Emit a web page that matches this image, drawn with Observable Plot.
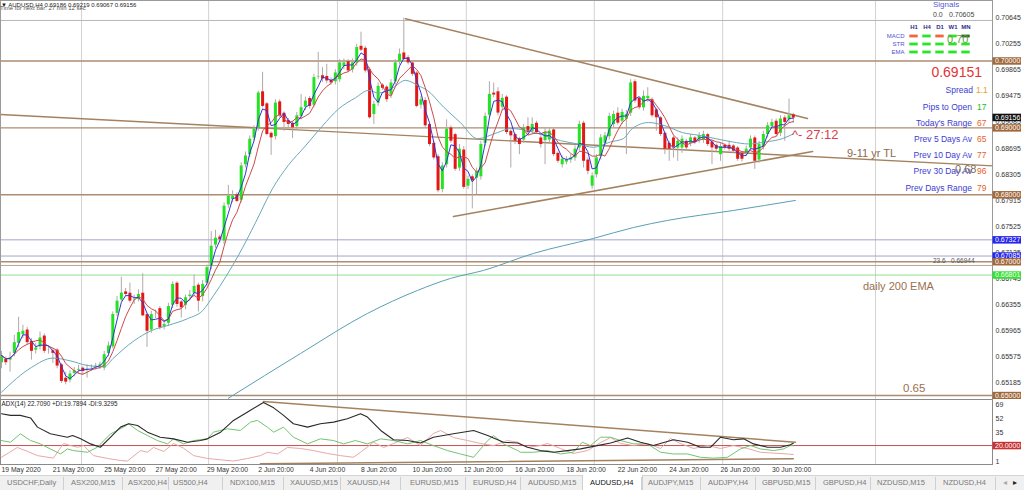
<!DOCTYPE html>
<html><head><meta charset="utf-8">
<script src="https://cdn.jsdelivr.net/npm/d3@7"></script>
<script src="https://cdn.jsdelivr.net/npm/@observablehq/plot@0.6"></script>
<style>
html,body{margin:0;padding:0;background:#fff;}
#chart{position:relative;width:1024px;height:490px;overflow:hidden;font-family:"Liberation Sans",Arial,sans-serif;background:#fff;}
#main,#adx,#sig{position:absolute;}
#main{left:0;top:0;} #adx{left:0;top:399px;} #sig{left:860px;top:14px;}
.t{position:absolute;white-space:nowrap;line-height:1;}
#tabs{position:absolute;left:0;top:475px;width:1024px;height:15px;background:#f0f0f0;border-top:1px solid #d4d4d4;box-sizing:border-box;}
.tab{position:absolute;top:3px;font-size:7.5px;color:#7a7a7a;white-space:nowrap;line-height:1;}
.sep{position:absolute;top:1px;width:1px;height:13px;background:#cfcfcf;}
.sig g[aria-label^="x-axis"] text{font-weight:bold;fill:#2e2e8e;}
.sig g[aria-label^="y-axis"] text{fill:#5050d0;}
</style></head>
<body><div id="chart"><div id="main"></div><div id="adx"></div><div id="sig" class="sig"></div><div id="tabs"></div></div>
<script>
// ---------------- DATA ----------------
const opens = [
.6548,.6553,.6552,.6562,.6577,.6590,.6597,.6580,.6567,.6572,
.6588,.6567,.6566,.6567,.6545,.6525,.6522,.6532,.6537,.6540,
.6539,.6540,.6542,.6543,.6540,.6562,.6572,.6622,.6642,.6654,
.6652,.6642,.6643,.6652,.6620,.6597,.6621,.6629,.6602,.6607,
.6634,.6667,.6639,.6634,.6647,.6652,.6664,.6647,.6667,.6692,
.6724,.6736,.6730,.6784,.6792,.6799,.6791,.6844,.6859,.6884,
.6899,.6953,.6935,.6891,.6886,.6938,.6921,.6910,.6906,.6901,
.6916,.6930,.6943,.6933,.6976,.6977,.6976,.6970,.6968,.6971,
.6991,.6998,.6986,.6996,.7021,.7018,.6986,.6919,.6936,.6963,
.6960,.6948,.6968,.6998,.7011,.7004,.6996,.6981,.6933,.6940,
.6904,.6876,.6856,.6807,.6844,.6899,.6889,.6839,.6866,.6812,
.6826,.6824,.6826,.6876,.6918,.6951,.6953,.6930,.6945,.6894,
.6889,.6883,.6881,.6901,.6894,.6906,.6884,.6880,.6881,.6896,
.6861,.6844,.6848,.6851,.6854,.6869,.6906,.6851,.6812,.6829,
.6856,.6876,.6886,.6904,.6921,.6909,.6912,.6921,.6968,.6943,
.6929,.6943,.6941,.6926,.6914,.6891,.6876,.6884,.6869,.6869,
.6879,.6876,.6884,.6881,.6881,.6889,.6878,.6873,.6859,.6873,
.6873,.6872,.6869,.6861,.6861,.6869,.6884,.6851,.6871,.6889,
.6901,.6909,.6891,.6914,.6911,.69186];
const highs = [
.6566,.6558,.6565,.6590,.6617,.6605,.6602,.6585,.6578,.6595,
.6592,.6574,.6570,.6570,.6548,.6535,.6537,.6542,.6545,.6543,
.6546,.6546,.6548,.6550,.6566,.6580,.6625,.6648,.6677,.6660,
.6668,.6650,.6658,.6682,.6623,.6626,.6628,.6633,.6612,.6638,
.6670,.6670,.6642,.6650,.6657,.6680,.6668,.6672,.6695,.6745,
.6747,.6740,.6788,.6814,.6806,.6803,.6848,.6864,.6888,.6903,
.6955,.6983,.6938,.6894,.6942,.6942,.6924,.6914,.6910,.6923,
.6950,.6946,.6947,.6980,.7013,.6990,.6995,.6975,.6987,.7002,
.7003,.7002,.7003,.7025,.7043,.7022,.6990,.6940,.6967,.6966,
.6963,.6972,.7002,.7018,.7064,.7008,.6999,.6984,.6947,.6945,
.6907,.6880,.6860,.6848,.6912,.6903,.6892,.6875,.6872,.6828,
.6830,.6840,.6880,.6922,.6969,.6967,.6960,.6950,.6948,.6897,
.6892,.6886,.6905,.6915,.6915,.6910,.6888,.6900,.6900,.6900,
.6864,.6858,.6857,.6860,.6873,.6910,.6910,.6855,.6833,.6860,
.6890,.6893,.6922,.6925,.6930,.6928,.6926,.6972,.6972,.6946,
.6955,.6960,.6945,.6929,.6917,.6894,.6880,.6888,.6885,.6888,
.6883,.6890,.6887,.6893,.6895,.6892,.6881,.6876,.6877,.6876,
.6880,.6875,.6872,.6864,.6873,.6888,.6888,.6880,.6895,.6908,
.6913,.6913,.6918,.6918,.6943,.69219];
const lows = [
.6540,.6545,.6535,.6558,.6572,.6585,.6575,.6553,.6562,.6568,
.6563,.6562,.6548,.6540,.6518,.6516,.6519,.6528,.6532,.6530,
.6526,.6536,.6538,.6539,.6537,.6558,.6570,.6618,.6640,.6648,
.6638,.6636,.6640,.6618,.6572,.6593,.6615,.6598,.6598,.6603,
.6630,.6632,.6616,.6628,.6643,.6648,.6625,.6640,.6663,.6688,
.6720,.6728,.6726,.6780,.6788,.6788,.6788,.6840,.6855,.6880,
.6895,.6930,.6888,.6859,.6882,.6915,.6895,.6900,.6884,.6897,
.6912,.6926,.6928,.6930,.6972,.6968,.6966,.6964,.6964,.6968,
.6987,.6982,.6982,.6992,.7014,.6982,.6913,.6905,.6932,.6956,
.6938,.6944,.6964,.6994,.7000,.6994,.6977,.6930,.6928,.6900,
.6872,.6852,.6803,.6803,.6840,.6877,.6835,.6835,.6808,.6808,
.6779,.6800,.6822,.6872,.6914,.6945,.6918,.6926,.6890,.6840,
.6875,.6860,.6877,.6890,.6890,.6890,.6870,.6845,.6876,.6857,
.6847,.6840,.6845,.6847,.6850,.6865,.6840,.6830,.6808,.6825,
.6852,.6872,.6882,.6900,.6904,.6905,.6860,.6917,.6937,.6927,
.6925,.6938,.6915,.6895,.6887,.6860,.6850,.6855,.6850,.6862,
.6865,.6872,.6875,.6877,.6877,.6872,.6845,.6864,.6850,.6867,
.6865,.6862,.6850,.6849,.6857,.6865,.6838,.6847,.6867,.6885,
.6897,.6887,.6887,.6880,.6907,.69067];
const closes = [
.6560,.6550,.6557,.6580,.6595,.6597,.6580,.6567,.6572,.6587,
.6567,.6569,.6564,.6545,.6522,.6521,.6533,.6538,.6540,.6537,
.6540,.6542,.6545,.6547,.6562,.6575,.6622,.6642,.6654,.6652,
.6642,.6645,.6652,.6620,.6597,.6622,.6623,.6602,.6607,.6634,
.6667,.6637,.6632,.6647,.6651,.6664,.6642,.6667,.6692,.6724,
.6736,.6734,.6784,.6799,.6799,.6791,.6844,.6859,.6884,.6899,
.6953,.6933,.6891,.6886,.6938,.6919,.6909,.6906,.6901,.6919,
.6931,.6941,.6933,.6976,.6977,.6974,.6971,.6968,.6983,.6998,
.6998,.6986,.6998,.7021,.7017,.6986,.6916,.6936,.6963,.6960,
.6943,.6968,.6998,.7011,.7003,.6998,.6981,.6933,.6943,.6904,
.6876,.6856,.6807,.6844,.6899,.6881,.6839,.6869,.6812,.6824,
.6822,.6836,.6876,.6918,.6951,.6950,.6923,.6945,.6894,.6889,
.6881,.6876,.6901,.6894,.6906,.6894,.6876,.6894,.6896,.6861,
.6851,.6854,.6853,.6856,.6869,.6906,.6851,.6836,.6829,.6856,
.6886,.6889,.6918,.6921,.6908,.6924,.6921,.6968,.6941,.6931,
.6948,.6948,.6919,.6916,.6891,.6869,.6869,.6872,.6881,.6884,
.6871,.6886,.6879,.6889,.6891,.6876,.6871,.6869,.6873,.6871,
.6869,.6866,.6854,.6854,.6869,.6884,.6851,.6876,.6891,.6904,
.6909,.6891,.6914,.6909,.6919,.69156];

// slow moving average: [bar, price]
const slowMA = [[0,.6505],[7,.6542],[12,.6556],[16,.6552],[20,.6545],[24,.6543],[26,.6555],[31,.6582],[35,.6597],[39,.6605],[43.5,.6615],[47,.6627],[49.5,.6649],[55.4,.6710],[59.4,.6759],[63.3,.6809],[67,.6844],[71,.6873],[75,.6903],[78.7,.6928],[82.7,.6945],[85.8,.6956],[88.1,.6952],[91.4,.6960],[94.4,.6971],[97.4,.6963],[99.5,.6956],[103.3,.6931],[107.2,.6908],[111.2,.6884],[115.9,.6893],[118.9,.6899],[122.9,.6896],[126.6,.6889],[130.6,.6881],[134.6,.6876],[138.3,.6871],[142.3,.6879],[145.3,.6884],[147.4,.6899],[151.2,.6908],[155.1,.6903],[159.1,.6893],[162.9,.6889],[166.8,.6884],[170.8,.6879],[174.5,.6876],[178.5,.6879],[182.5,.6884],[185,.6891]];
// daily 200 EMA: [bar, price]
const dailyEMA = [[53,.6496],[69.9,.6563],[85.5,.66227],[97.2,.66571],[104.9,.6675],[112.6,.6687],[124.3,.67124],[138.3,.67348],[147.7,.67512],[155.6,.67617],[171,.67766],[185.5,.67916]];

// trend lines: [bar, price]
const trendUpper = [[94.4,.7063],[188.3,.69141]];
const trendLower = [[105.6,.67676],[189.5,.68647]];
const trendLongTerm = [[-0.23,.69200],[231.54,.68432]];

// horizontal levels
const levelPrices = [0.70605,0.70000,0.69000,0.68000,0.67327,0.67085,0.67000,0.66944,0.66801,0.65000];
const levelKinds  = ["hi","round","round","round","alert","alert","round","fib","ema","round"];
const boxPrices = [0.70000,0.69156,0.69000,0.68000,0.67327,0.67085,0.67000,0.66801,0.65000];
const boxKinds  = ["round","bid","round","round","alert","alert","round","ema","round"];
const priceTicks = [0.70645,0.70255,0.69865,0.69475,0.69085,0.68695,0.68305,0.67915,0.67525,0.67135,0.66745,0.66355,0.65965,0.65575,0.65185];

// ADX panel: [bar, value]
const adxLine = [[0,58],[2.1,56],[4.4,56],[6.8,53],[8.4,42],[11.4,34],[15.4,30],[16.6,32],[18.5,28],[20.8,22],[23.1,18],[25.5,30],[27.8,42],[29.7,46],[31.8,44],[34.1,36],[37.1,30],[40.2,28],[43.5,24],[46.5,26],[48.1,28],[51.2,36],[54.2,50],[57.5,60],[61.2,71.5],[63.6,65],[65.9,56],[68.2,46],[71.5,42],[74.5,46],[77.6,48],[80.8,52],[83.9,58],[85.5,54],[88.6,38],[91.6,27],[94.9,26],[97.9,23],[100.9,30],[105.6,34],[110.3,38],[113.6,32],[117.3,24],[120.6,23],[122.9,18],[125.9,14],[129,12],[132.2,14],[135.3,16],[138.3,19],[142.3,23],[146.3,29],[149.3,24],[152.3,20],[157,27],[160.3,24],[163.3,18],[165.7,18],[168,30],[171,27],[173.4,28],[175.7,22],[179,18],[182,18],[184.3,21],[185,22.7]];
const plusDI = [[0,26],[2.1,24],[4.4,34],[6.8,26],[9.1,22],[11.4,16],[13.8,10],[15.4,16],[16.8,14],[20.1,12],[22.4,18],[25.5,34],[28.5,42],[29.7,46],[31.8,38],[34.1,32],[36.4,26],[38.8,22],[40.2,28],[42.5,22],[44.9,26],[48.1,28],[49.5,36],[52.8,40],[55.8,38],[58.2,48],[59.8,50],[62.1,42],[63.6,36],[65.9,42],[68.2,30],[71.5,22],[74.5,28],[77.6,26],[79.9,22],[82.7,26],[85.5,22],[88.6,28],[91.6,26],[94.9,22],[97.9,26],[100.9,20],[104.2,14],[107.2,10],[110.3,6],[113.6,26],[115,32],[117.3,22],[120.6,14],[121.3,12],[124.3,12],[127.6,14],[130.6,10],[133.6,12],[135.7,24],[137.6,20],[140,30],[142.3,30],[144.6,26],[147.7,22],[150.9,22],[154,12],[157,10],[160.3,10],[163.3,6],[166.4,5],[169.6,6],[172.7,16],[175,20],[177.3,16],[180.4,14],[182.7,16],[184.3,20],[185,19.8]];
const minusDI = [[0,6],[3.7,17.7],[6.1,13],[8.4,8],[12.1,5],[14.5,22.5],[16.1,20],[17.8,18],[19.2,20],[21.5,8],[24.8,4.6],[27.8,2.2],[29.4,1.5],[32.5,14],[34.1,12],[35.5,17.7],[37.9,13],[40.2,22.5],[42.5,17],[44.9,8],[48.1,4.6],[51.2,3],[54.2,1.5],[57.5,4.6],[60.5,8],[62.1,12],[64.5,10],[66.8,17.7],[69.9,16.5],[72.9,14],[76.2,10.5],[79.2,8],[82.2,6],[83.9,12],[86.9,24],[89.3,17.7],[91.6,22.5],[94.9,29.6],[97.9,20],[100.9,34.4],[102.6,38],[105.6,29.6],[108.9,26],[111.9,22.5],[115,20],[118.2,26],[120.6,24],[122.9,17.7],[125.9,20],[127.6,22.5],[130.6,16.5],[133.6,10.5],[136.9,14],[140,23.7],[142.3,29.6],[144.6,22.5],[147.7,20],[150.9,22.5],[154,16.5],[156.3,28.4],[158.6,22.5],[161.7,16.5],[165,20],[168,16.5],[171,20],[174.3,16.5],[177.3,12],[180.4,11],[183.6,10],[185,9.3]];
const adxTrendUpper = [[61.2,72.6],[185.5,24]];
const adxTrendLower = [[60.5,-1.8],[185,4.2]];
const adxLevel = 20;
const adxTicks = [69,52,35,18,1];

// time axis
const dateLabels = ["19 May 2020","21 May 20:00","25 May 20:00","27 May 20:00","29 May 20:00","2 Jun 20:00","4 Jun 20:00","8 Jun 20:00","10 Jun 20:00","12 Jun 20:00","16 Jun 20:00","18 Jun 20:00","22 Jun 20:00","24 Jun 20:00","26 Jun 20:00","30 Jun 20:00"];
const dateBars = [0,12,24,36,48,60,72,84,96,108,120,132,144,156,168,180];
const gridBars = [18.7,48.4,78.5,108.6,138.5,168.5,204.2];

// signals widget
const signalFrames = ["H1","H4","D1","W1","MN"];
const signalNames = ["MACD","STR","EMA"];
const macdStates = ["down","up","down","up","strong"];
const strStates  = ["up","up","up","up","up"];
const emaStates  = ["up","up","up","up","up"];

// info panel
const infoLabels = ["Pips to Open","Today's Range","Prev 5 Days Av","Prev 10 Day Av","Prev 30 Day Av","Prev Days Range"];
const infoValues = [17,67,65,77,96,79];
const spreadValue = "1.1";
const bidValue = "0.69151";

const tabNames = ["USDCHF,Daily","ASX200,M15","ASX200,H4","US500,H4","NDX100,M15","XAUUSD,M15","XAUUSD,H4","EURUSD,M15","EURUSD,H4","AUDUSD,M15","AUDUSD,H4","AUDJPY,M15","AUDJPY,H4","GBPUSD,M15","GBPUSD,H4","NZDUSD,M15","NZDUSD,H4"];

// ---------------- STYLE ----------------
const FONT = "Liberation Sans, Arial, sans-serif";
const BROWN = "#ab8e72";
const levelColor = {hi:"#b8b8b8", round:BROWN, alert:"#a4a4cc", fib:"#bba68e", ema:"#8ee08e"};
const levelWidth = {hi:1, round:1.4, alert:1, fib:1, ema:1};
const boxColor = {round:"#a0693c", bid:"#111", alert:"#2424ee", ema:"#36e036"};
const signalColor = {up:"#26e626", down:"#f2663e", strong:"#1f6f1f"};
const PX = 4.28;
const xDomain = [-1/PX, 991/PX];
const boxX1 = (992.5-1)/PX, boxX2 = (1021-1)/PX, boxTx = (994.5-1)/PX;

const rows = closes.map((c,i)=>({i, o:opens[i], h:highs[i], l:lows[i], c, up:c>=opens[i]}));
const levels = levelPrices.map((p,k)=>({p, kind:levelKinds[k]}));
const boxes = boxPrices.map((p,k)=>({p, kind:boxKinds[k]}));
const f5 = d3.format(".5f");

const main = Plot.plot({
  width:1024, height:399, marginLeft:0, marginRight:32, marginTop:0, marginBottom:0,
  x:{domain:xDomain, axis:null},
  y:{domain:[0.649412,0.709035], axis:"right", ticks:priceTicks, tickFormat:f5, tickSize:0, tickPadding:3, label:null},
  color:{type:"identity"},
  style:{fontFamily:FONT, fontSize:"7px", color:"#333", background:"#fff"},
  marks:[
    Plot.ruleX(gridBars, {stroke:"#d2d2d2", strokeWidth:1}),
    Plot.ruleY(levels, {y:"p", stroke:d=>levelColor[d.kind], strokeWidth:d=>levelWidth[d.kind]}),
    Plot.line(trendLongTerm, {x:d=>d[0], y:d=>d[1], stroke:"#a4825f", strokeWidth:1.4}),
    Plot.line(trendUpper, {x:d=>d[0], y:d=>d[1], stroke:"#a4825f", strokeWidth:1.6}),
    Plot.line(trendLower, {x:d=>d[0], y:d=>d[1], stroke:"#a4825f", strokeWidth:1.6}),
    Plot.line(dailyEMA, {x:d=>d[0], y:d=>d[1], stroke:"#5a9fb6", strokeWidth:1, curve:"monotone-x"}),
    Plot.ruleX(rows, {x:"i", y1:"l", y2:"h", stroke:"#b3a8a8", strokeWidth:1}),
    Plot.ruleX(rows, {x:"i", y1:"o", y2:"c", stroke:d=>d.up?"#22e422":"#e41616", strokeWidth:3, insetTop:-0.6, insetBottom:-0.6}),
    Plot.line(slowMA, {x:d=>d[0], y:d=>d[1], stroke:"#6aa8ba", strokeWidth:1, curve:"monotone-x"}),
    Plot.lineY(rows, Plot.windowY({k:6, anchor:"end"}, {x:"i", y:"c", stroke:"#cc4a4a", strokeWidth:1})),
    Plot.lineY(rows, Plot.windowY({k:3, anchor:"end"}, {x:"i", y:"c", stroke:"#3434d6", strokeWidth:1})),
    Plot.frame({stroke:"#9a9a9a"}),
    Plot.ruleY(boxes, {y:"p", x1:()=>boxX1, x2:()=>boxX2, stroke:d=>boxColor[d.kind], strokeWidth:7.5}),
    Plot.text(boxes, {x:()=>boxTx, y:"p", text:d=>f5(d.p), fill:"#fff", textAnchor:"start", fontSize:7})
  ]
});
document.getElementById("main").appendChild(main);

const dateRows = dateBars.map((b,k)=>({b, label:dateLabels[k]}));
const adx = Plot.plot({
  width:1024, height:76, marginLeft:0, marginRight:32, marginTop:0, marginBottom:11,
  x:{domain:xDomain, axis:null},
  y:{domain:[-2.6,74.97], axis:"right", ticks:adxTicks, tickSize:0, tickPadding:3, label:null},
  color:{type:"identity"},
  style:{fontFamily:FONT, fontSize:"7px", color:"#333", background:"#fff"},
  marks:[
    Plot.ruleX(gridBars, {stroke:"#d2d2d2", strokeWidth:1}),
    Plot.ruleY([adxLevel], {y:d=>d, stroke:"#c85050", strokeWidth:1}),
    Plot.line(adxTrendUpper, {x:d=>d[0], y:d=>d[1], stroke:"#a4825f", strokeWidth:1.5}),
    Plot.line(adxTrendLower, {x:d=>d[0], y:d=>d[1], stroke:"#a4825f", strokeWidth:1.5}),
    Plot.line(minusDI, {x:d=>d[0], y:d=>d[1], stroke:"#e8a8a8", strokeWidth:1}),
    Plot.line(plusDI, {x:d=>d[0], y:d=>d[1], stroke:"#72c472", strokeWidth:1}),
    Plot.line(adxLine, {x:d=>d[0], y:d=>d[1], stroke:"#2a2a2a", strokeWidth:1.1}),
    Plot.frame({stroke:"#8a8a8a"}),
    Plot.ruleY([adxLevel], {y:d=>d, x1:()=>boxX1, x2:()=>boxX2, stroke:"#c83232", strokeWidth:7.5}),
    Plot.text([adxLevel], {x:()=>boxTx, y:d=>d, text:d=>d.toFixed(4), fill:"#fff", textAnchor:"start", fontSize:7}),
    Plot.text(dateRows, {x:"b", text:"label", frameAnchor:"bottom", lineAnchor:"top", textAnchor:"start", dy:3, fontSize:6.8, fill:"#333"}),
    Plot.text(["ADX(14) 22.7090 +DI:19.7894 -DI:9.3295"], {frameAnchor:"top-left", lineAnchor:"top", textAnchor:"start", dx:1, dy:2, fontSize:6.3, fill:"#222"})
  ]
});
document.getElementById("adx").appendChild(adx);

const signalCells = [];
[macdStates, strStates, emaStates].forEach((arr, r) => arr.forEach((s, c) => signalCells.push({tf:signalFrames[c], ind:signalNames[r], state:s})));
const sig = Plot.plot({
  width:116, height:45, marginLeft:45, marginRight:3, marginTop:17, marginBottom:2.5,
  x:{domain:signalFrames, axis:"top", tickSize:0, tickPadding:3, label:null, padding:0},
  y:{domain:signalNames, axis:"left", tickSize:0, tickPadding:1, label:null, padding:0},
  color:{type:"identity"},
  style:{fontFamily:FONT, fontSize:"6px", background:"transparent", color:"#3a3ab0"},
  marks:[Plot.cell(signalCells, {x:"tf", y:"ind", fill:d=>signalColor[d.state], insetLeft:2.3, insetRight:2.3, insetTop:2.6, insetBottom:2.6})]
});
document.getElementById("sig").appendChild(sig);

// ---------------- TEXT OVERLAYS ----------------
const chart = document.getElementById("chart");
function addText(txt, opts){
  const d = document.createElement("div");
  d.className = "t"; d.textContent = txt;
  Object.assign(d.style, opts);
  chart.appendChild(d);
}
addText("\u25BC AUDUSD,H4  0.69186 0.69219 0.69067 0.69156", {left:"1px", top:"2px", fontSize:"6px", color:"#222"});
addText("Time for next bar: 27 min 12 sec", {left:"0px", top:"5px", fontSize:"6px", color:"#555"});
addText("Signals", {left:"933px", top:"1px", fontSize:"8px", color:"#5a5ad2"});
addText("0.0", {left:"933px", top:"11px", fontSize:"7px", color:"#444"});
addText("0.70605", {left:"949px", top:"11px", fontSize:"7px", color:"#444"});
addText("0.70", {left:"947px", top:"34px", fontSize:"11px", color:"#6f9a4a"});
addText(bidValue, {right:"42px", top:"64.5px", fontSize:"14px", color:"#e23434"});
addText("Spread", {right:"51px", top:"86px", fontSize:"8.5px", color:"#3c3cd2"});
addText(spreadValue, {left:"976px", top:"86px", fontSize:"8.5px", color:"#e8a020"});
const infoCenters = [107,123,139,155,171,188];
infoLabels.forEach((lab,k)=>{
  addText(lab, {right:"52px", top:(infoCenters[k]-4.5)+"px", fontSize:"8.5px", color:"#3c3cd2"});
  addText(String(infoValues[k]), {left:"977px", top:(infoCenters[k]-4.5)+"px", fontSize:"8.5px", color:k===0?"#22bb22":"#e8602a"});
});
addText("^- 27:12", {left:"792px", top:"128px", fontSize:"13px", color:"#d8404e"});
addText("9-11 yr TL", {left:"847px", top:"147.5px", fontSize:"11px", color:"#8c6a4a"});
addText("0.68", {left:"955px", top:"163.5px", fontSize:"11px", color:"#7c6c5c"});
addText("23.6", {left:"933px", top:"258px", fontSize:"6.5px", color:"#555"});
addText("0.66944", {left:"951px", top:"258px", fontSize:"6.5px", color:"#555"});
addText("daily 200 EMA", {left:"863px", top:"281px", fontSize:"11px", color:"#9a7050"});
addText("0.65", {left:"903px", top:"382.5px", fontSize:"11.5px", color:"#9a7050"});

// ---------------- TABS ----------------
const tabs = document.getElementById("tabs");
const tabLefts = [7,71,128,173,230,290,347,410,473,528,590,648,708,762,823,877,943];
const sepLefts = [63,122,168,222,283,340,400,465,520,582,641,700,755,815,870,935,995];
const active = tabNames.indexOf("AUDUSD,H4");
const act = document.createElement("div");
Object.assign(act.style, {position:"absolute", left:"582px", top:"-1px", width:"59px", height:"15px", background:"#fff", borderLeft:"1px solid #cfcfcf", borderRight:"1px solid #cfcfcf"});
tabs.appendChild(act);
sepLefts.forEach(x=>{ const s=document.createElement("div"); s.className="sep"; s.style.left=x+"px"; tabs.appendChild(s); });
tabNames.forEach((n,k)=>{
  const t=document.createElement("div"); t.className="tab"; t.textContent=n; t.style.left=tabLefts[k]+"px";
  if (k===active) t.style.color="#111";
  tabs.appendChild(t);
});
const a1=document.createElement("div"); a1.className="tab"; a1.textContent="\u25C2"; a1.style.left="1003px"; a1.style.color="#aaa"; tabs.appendChild(a1);
const a2=document.createElement("div"); a2.className="tab"; a2.textContent="\u25B8"; a2.style.left="1013px"; a2.style.color="#222"; tabs.appendChild(a2);
</script></body></html>
